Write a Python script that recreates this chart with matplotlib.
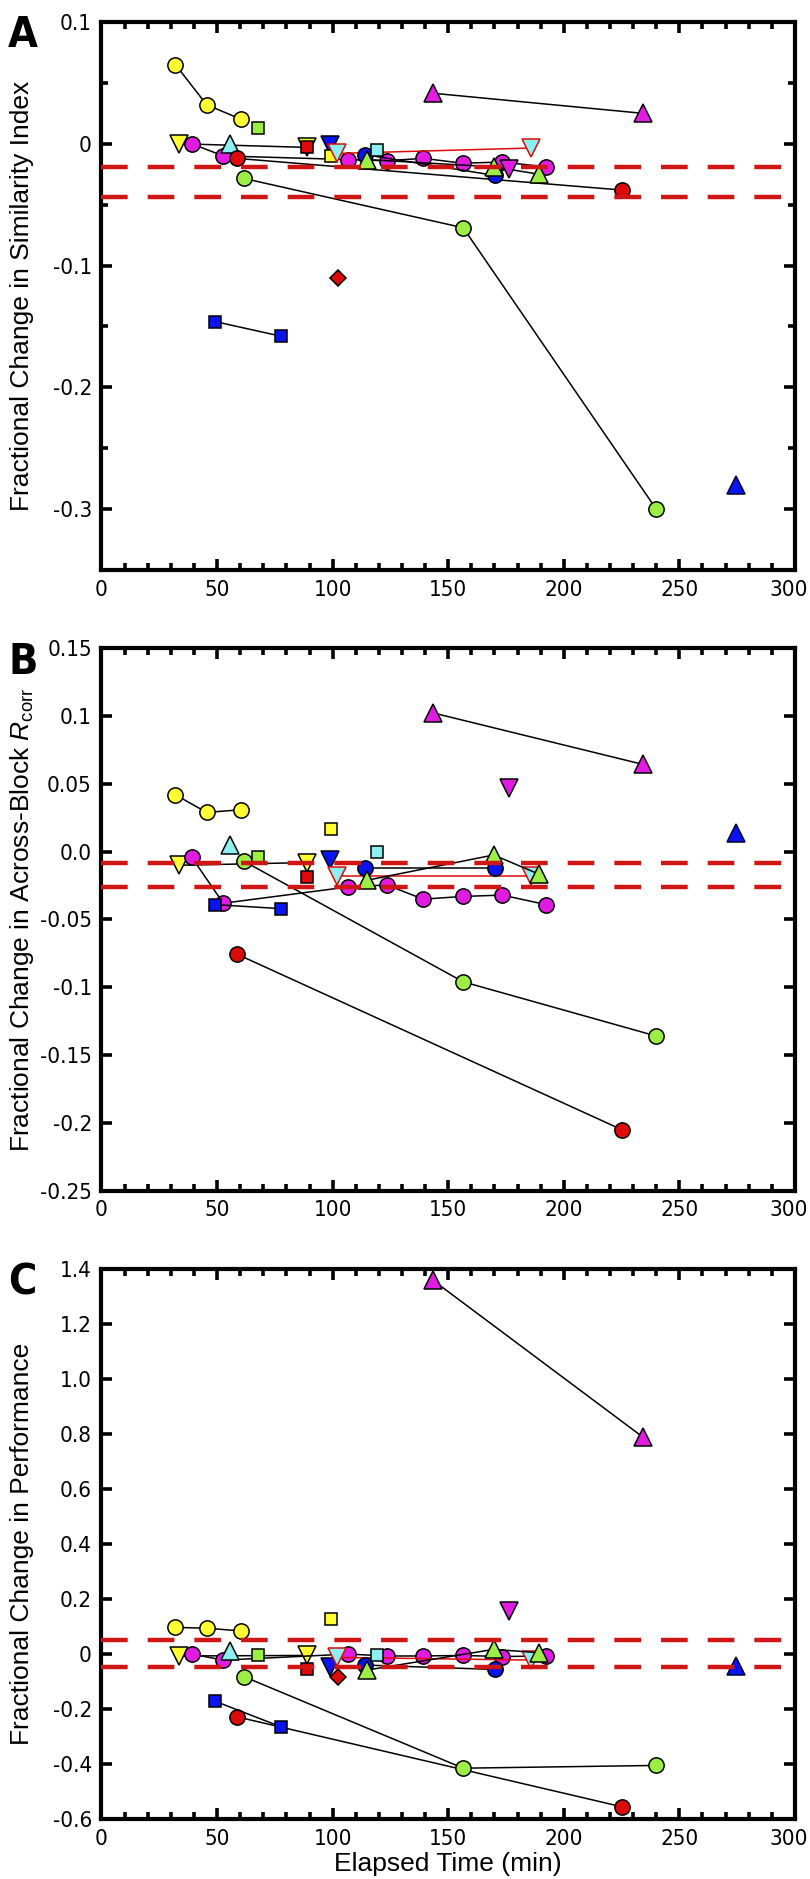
import numpy as np
import matplotlib
matplotlib.use('Agg')
import matplotlib.pyplot as plt
from matplotlib.ticker import MultipleLocator, FuncFormatter
from matplotlib.transforms import offset_copy

plt.rcParams['font.family'] = ['DejaVu Sans']
plt.rcParams['font.stretch'] = 'condensed'
plt.rcParams['axes.unicode_minus'] = False
plt.rcParams['mathtext.fontset'] = 'custom'
plt.rcParams['mathtext.rm'] = 'Liberation Sans'
plt.rcParams['mathtext.it'] = 'Liberation Sans:italic'

# ---- data: elapsed time (min) and fractional change for each subject ----
# si = similarity index (A), rc = across-block Rcorr (B), pf = performance (C)
t_ycirc = [32, 45.5, 60.5]
si_ycirc = [0.065, 0.032, 0.020]
rc_ycirc = [0.042, 0.029, 0.031]
pf_ycirc = [0.097, 0.094, 0.084]

t_ydown = [33.5, 89]
si_ydown = [0.0, -0.003]
rc_ydown = [-0.010, -0.008]
pf_ydown = [-0.007, -0.005]

t_mcirc = [39, 52.7, 106.7, 123.4, 139.2, 156.2, 173.4, 192.3]
si_mcirc = [0.0, -0.010, -0.013, -0.014, -0.012, -0.016, -0.015, -0.019]
rc_mcirc = [-0.004, -0.038, -0.026, -0.0245, -0.035, -0.033, -0.032, -0.039]
pf_mcirc = [0.0, -0.022, 0.0, -0.007, -0.007, -0.005, -0.009, -0.007]

t_cup = [55.6]
si_cup = [0.0]
rc_cup = [0.005]
pf_cup = [0.012]

t_rcirc = [58.5, 225]
si_rcirc = [-0.012, -0.038]
rc_rcirc = [-0.0755, -0.205]
pf_rcirc = [-0.228, -0.555]

t_gcirc = [61.6, 156.5, 240]
si_gcirc = [-0.0285, -0.069, -0.300]
rc_gcirc = [-0.007, -0.096, -0.136]
pf_gcirc = [-0.082, -0.415, -0.405]

t_gsq = [67.6]
si_gsq = [0.013]
rc_gsq = [-0.004]
pf_gsq = [-0.005]

t_bsq = [49, 77.5]
si_bsq = [-0.146, -0.158]
rc_bsq = [-0.039, -0.042]
pf_bsq = [-0.171, -0.264]

t_rsq = [88.8]
si_rsq = [-0.003]
rc_rsq = [-0.019]
pf_rsq = [-0.056]

t_bdown = [98.8]
si_bdown = [-0.001]
rc_bdown = [-0.006]
pf_bdown = [-0.047]

t_ysq = [99.3]
si_ysq = [-0.010]
rc_ysq = [0.0165]
pf_ysq = [0.126]

t_cdown = [101.7, 186]
si_cdown = [-0.008, -0.0035]
rc_cdown = [-0.018, -0.018]
pf_cdown = [-0.012, -0.022]

t_rdia = [102.5]
si_rdia = [-0.110]
rc_rdia = [np.nan]
pf_rdia = [-0.082]

t_bcirc = [114, 170.2]
si_bcirc = [-0.009, -0.026]
rc_bcirc = [-0.012, -0.012]
pf_bcirc = [-0.040, -0.056]

t_gup = [115, 169.7, 189.2]
si_gup = [-0.013, -0.019, -0.025]
rc_gup = [-0.021, -0.0024, -0.0165]
pf_gup = [-0.058, 0.017, 0.005]

t_csq = [119.3]
si_csq = [-0.005]
rc_csq = [0.0]
pf_csq = [-0.002]

t_mup = [143.3, 234.1]
si_mup = [0.0415, 0.025]
rc_mup = [0.1025, 0.0645]
pf_mup = [1.36, 0.79]

t_mdown = [176.4]
si_mdown = [-0.021]
rc_mdown = [0.047]
pf_mdown = [0.158]

t_bup = [274.7]
si_bup = [-0.28]
rc_bup = [0.0136]
pf_bup = [-0.044]

# dashed reference lines per panel
ref_si = [-0.0195, -0.0435]
ref_rc = [-0.0085, -0.026]
ref_pf = [0.051, -0.046]

YEL = '#FFFF33'
MAG = '#E21BE2'
GRN = '#9CEE44'
CYN = '#8CF0F0'
BLU = '#0A14F0'
RED = '#DD0A0A'

subjects = [
    (t_ycirc, si_ycirc, rc_ycirc, pf_ycirc, 'o', YEL, 'k', 'k'),
    (t_ydown, si_ydown, rc_ydown, pf_ydown, 'v', YEL, 'k', 'k'),
    (t_mcirc, si_mcirc, rc_mcirc, pf_mcirc, 'o', MAG, 'k', 'k'),
    (t_cup, si_cup, rc_cup, pf_cup, '^', CYN, 'k', 'k'),
    (t_rcirc, si_rcirc, rc_rcirc, pf_rcirc, 'o', RED, 'k', 'k'),
    (t_gcirc, si_gcirc, rc_gcirc, pf_gcirc, 'o', GRN, 'k', 'k'),
    (t_gsq, si_gsq, rc_gsq, pf_gsq, 's', GRN, 'k', 'k'),
    (t_bsq, si_bsq, rc_bsq, pf_bsq, 's', BLU, 'k', 'k'),
    (t_rsq, si_rsq, rc_rsq, pf_rsq, 's', RED, 'k', 'k'),
    (t_bdown, si_bdown, rc_bdown, pf_bdown, 'v', BLU, 'k', 'k'),
    (t_ysq, si_ysq, rc_ysq, pf_ysq, 's', YEL, 'k', 'k'),
    (t_cdown, si_cdown, rc_cdown, pf_cdown, 'v', CYN, RED, RED),
    (t_rdia, si_rdia, rc_rdia, pf_rdia, 'D', RED, 'k', 'k'),
    (t_bcirc, si_bcirc, rc_bcirc, pf_bcirc, 'o', BLU, 'k', 'k'),
    (t_gup, si_gup, rc_gup, pf_gup, '^', GRN, 'k', 'k'),
    (t_csq, si_csq, rc_csq, pf_csq, 's', CYN, 'k', 'k'),
    (t_mup, si_mup, rc_mup, pf_mup, '^', MAG, 'k', 'k'),
    (t_mdown, si_mdown, rc_mdown, pf_mdown, 'v', MAG, 'k', 'k'),
    (t_bup, si_bup, rc_bup, pf_bup, '^', BLU, '#000033', 'k'),
]
msize = {'o': 11, 'v': 12.5, '^': 12.5, 's': 9, 'D': 8}

fig = plt.figure(figsize=(8.1, 18.79), dpi=100)
axA = fig.add_axes([0.1253, 0.6967, 0.856, 0.2916])
axB = fig.add_axes([0.1253, 0.3664, 0.856, 0.2885])
axC = fig.add_axes([0.1253, 0.0319, 0.856, 0.2927])


def fmt_a(v, pos):
    return '0' if abs(v) < 1e-9 else '%.1f' % v


def fmt_b(v, pos):
    return '0.0' if abs(v) < 1e-9 else '%g' % round(v, 3)


def fmt_c(v, pos):
    return '0' if abs(v) < 1e-9 else '%.1f' % v


panels = [
    (axA, 1, ref_si, (-0.35, 0.1), 0.1, 0.05, fmt_a, 'A'),
    (axB, 2, ref_rc, (-0.25, 0.15), 0.05, None, fmt_b, 'B'),
    (axC, 3, ref_pf, (-0.6, 1.4), 0.2, None, fmt_c, 'C'),
]

for ax, k, refs, ylim, major, minor, fmt, letter in panels:
    for s in subjects:
        t, vals, mk, fc, ec, lc = s[0], s[k], s[4], s[5], s[6], s[7]
        ax.plot(t, vals, color=lc, lw=1.1, marker=mk, ms=msize[mk],
                mfc=fc, mec=ec, mew=1.1, zorder=3)
    for r in refs:
        ax.axhline(r, color='#D01515', lw=3.2, ls=(0, (6, 4.5)), zorder=4)
    ax.set_xlim(0, 300)
    ax.set_ylim(*ylim)
    ax.xaxis.set_major_locator(MultipleLocator(50))
    ax.xaxis.set_minor_locator(MultipleLocator(10))
    ax.yaxis.set_major_locator(MultipleLocator(major))
    if minor:
        ax.yaxis.set_minor_locator(MultipleLocator(minor))
    ax.yaxis.set_major_formatter(FuncFormatter(fmt))
    ax.tick_params(which='both', direction='in', top=True, right=True,
                   labelsize=16, width=2.6, pad=7)
    ax.tick_params(which='major', length=8)
    ax.tick_params(which='minor', length=5)
    for sp in ax.spines.values():
        sp.set_linewidth(3)
    fig.text(0.010, ax.get_position().y1 + 0.004, letter, fontsize=31,
             fontweight='bold', ha='left', va='top')

lab = {'family': ['Liberation Sans', 'DejaVu Sans'], 'stretch': 'normal', 'size': 19}
fig.text(0.027, axA.get_position().y0 + axA.get_position().height / 2,
         'Fractional Change in Similarity Index', rotation=90,
         ha='center', va='center', fontdict=lab)
fig.text(0.027, axB.get_position().y0 + axB.get_position().height / 2,
         r'Fractional Change in Across-Block $\mathit{R}_{\rm corr}$', rotation=90,
         ha='center', va='center', fontdict=lab)
fig.text(0.027, axC.get_position().y0 + axC.get_position().height / 2,
         'Fractional Change in Performance', rotation=90,
         ha='center', va='center', fontdict=lab)
axC.set_xlabel('Elapsed Time (min)', fontdict=lab, labelpad=2)

# keep the "300" label inside the figure edge
fig.canvas.draw()
for ax in (axA, axB, axC):
    for tick in ax.xaxis.get_major_ticks():
        if abs(tick.get_loc() - 300) < 1e-6:
            lbl = tick.label1
            lbl.set_transform(offset_copy(lbl.get_transform(), fig=fig,
                                          x=-6, y=0, units='dots'))

fig.savefig('out.png', dpi=100)
